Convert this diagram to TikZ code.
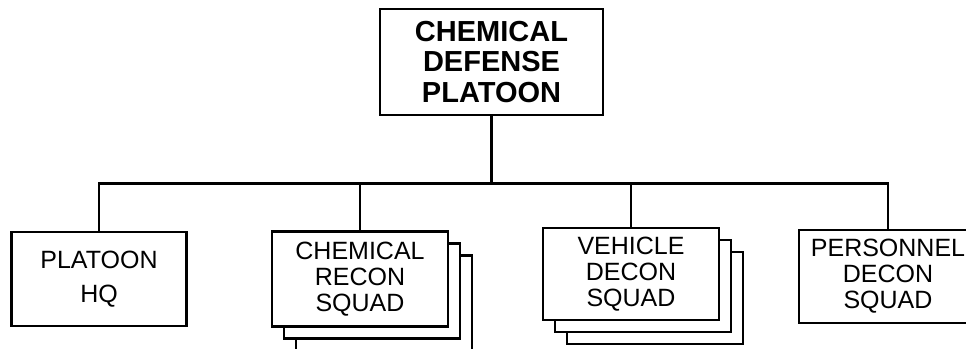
\documentclass[tikz,border=0pt]{standalone}
\usepackage{fontspec}
\setmainfont{Liberation Sans}
\usetikzlibrary{positioning,shadows}

\begin{document}
\begin{tikzpicture}[x=1pt, y=-1pt,
  unit/.style={rectangle, draw, fill=white, line width=2.4pt, inner sep=0pt, align=center, font=\fontsize{25pt}{26pt}\selectfont},
  squad/.style={unit, copy shadow={shadow xshift=24pt, shadow yshift=-24pt}, copy shadow={shadow xshift=12pt, shadow yshift=-12pt}},
  link/.style={line width=2.2pt}
]
\useasboundingbox (0,0) rectangle (966,348);
\node[unit, minimum width=223pt, minimum height=106pt, font=\fontsize{29pt}{30.5pt}\selectfont\bfseries] (plt) at (491.5,62) {CHEMICAL\\DEFENSE\\PLATOON};
\node[unit, minimum width=175pt, minimum height=94pt, font=\fontsize{25pt}{34pt}\selectfont] (hq) at (99,279) {PLATOON\\HQ};
\node[squad, minimum width=176pt, minimum height=95pt] (recon) at (360,279) {CHEMICAL\\RECON\\SQUAD};
\node[squad, minimum width=176pt, minimum height=92pt] (vdecon) at (631,274) {VEHICLE\\DECON\\SQUAD};
\node[unit, minimum width=178pt, minimum height=93pt] (pdecon) at (888,276.5) {PERSONNEL\\DECON\\SQUAD};
\coordinate (bar) at (491.5,183.5);
\draw[link] (plt) -- (bar);
\draw[link] (bar) -| (hq);
\draw[link] (bar) -| (recon);
\draw[link] (bar) -| (vdecon);
\draw[link] (bar) -| (pdecon);
\end{tikzpicture}
\end{document}
